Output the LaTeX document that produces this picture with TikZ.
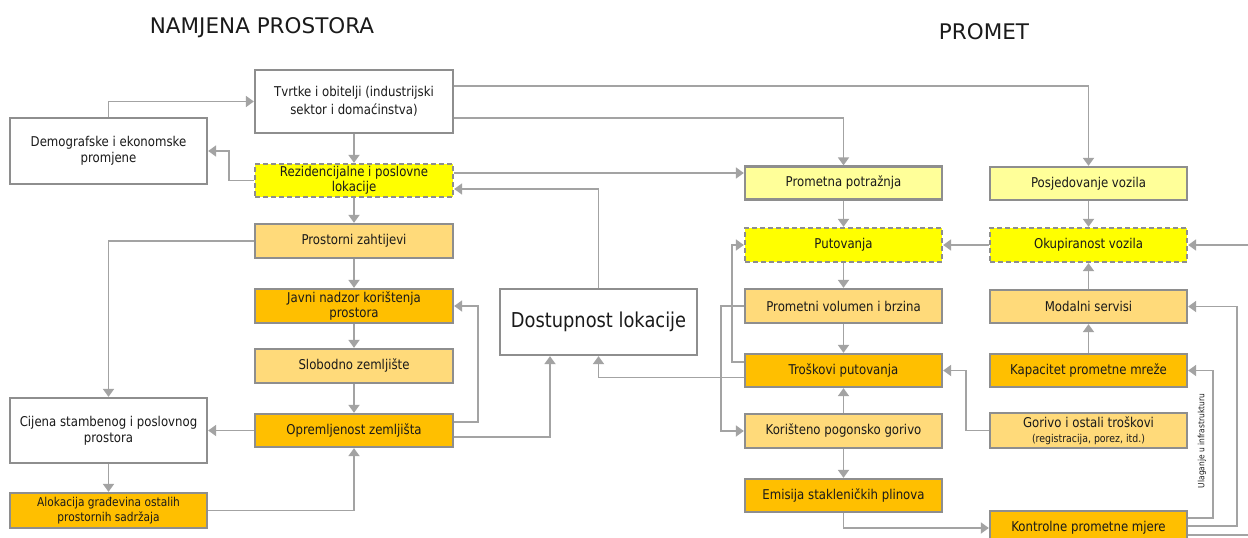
\documentclass[tikz,border=0pt]{standalone}
\usepackage{fontspec}
\setmainfont{DejaVu Sans}[FakeStretch=0.87]
\newfontfamily\titlefont{DejaVu Sans}
\usetikzlibrary{arrows.meta,calc}
\definecolor{bordergray}{HTML}{8E8E8E}
\definecolor{linegray}{HTML}{A3A3A3}
\definecolor{brightyellow}{HTML}{FFFF00}
\definecolor{paleyellow}{HTML}{FFFF99}
\definecolor{lightorange}{HTML}{FFDA7A}
\definecolor{darkorange}{HTML}{FFBF00}
\definecolor{txt}{HTML}{1A1A1A}
\tikzset{
  box/.style={draw=bordergray, line width=2.3pt, inner sep=0pt, align=center,
    minimum width=197pt, minimum height=34pt, text=txt,
    font=\fontsize{13.5}{16}\selectfont},
  whitebox/.style={box, fill=white},
  yelbox/.style={box, fill=brightyellow, dash pattern=on 5pt off 3pt},
  palebox/.style={box, fill=paleyellow},
  lightbox/.style={box, fill=lightorange},
  darkbox/.style={box, fill=darkorange},
  conn/.style={draw=linegray, line width=1.8pt,
    -{Triangle[width=11pt,length=8pt,fill=linegray]}},
  plainconn/.style={draw=linegray, line width=1.8pt},
  title/.style={font=\titlefont\fontsize{21.5}{24}\selectfont, text=txt}
}
\begin{document}
\begin{tikzpicture}[x=1pt,y=-1pt]
\useasboundingbox (0,0) rectangle (1248,538);
\fill[white] (0,0) rectangle (1248,538);

% titles
\node[title] (t1) at (262,28) {NAMJENA PROSTORA};
\node[title] (t2) at (984,32) {PROMET};

% left column
\node[whitebox, minimum width=198pt, minimum height=63pt, font=\fontsize{13.5}{18.5}\selectfont] (tvrtke) at (354,101.5) {Tvrtke i obitelji (industrijski\\sektor i domaćinstva)};
\node[whitebox, minimum height=66pt] (demog) at (108.5,151) {Demografske i ekonomske\\promjene};
\node[yelbox, minimum width=198pt, minimum height=33pt, font=\fontsize{13.5}{15}\selectfont] (rez) at (354,180.5) {Rezidencijalne i poslovne\\lokacije};
\node[lightbox, minimum width=198pt] (prost) at (354,241) {Prostorni zahtijevi};
\node[darkbox, minimum width=198pt, font=\fontsize{13.5}{15.5}\selectfont] (javni) at (354,306) {Javni nadzor korištenja\\prostora};
\node[lightbox, minimum width=198pt] (slob) at (354,366) {Slobodno zemljište};
\node[darkbox, minimum width=198pt, minimum height=33pt] (oprem) at (354,430.5) {Opremljenost zemljišta};
\node[whitebox, minimum height=65pt] (cijena) at (108.5,430.5) {Cijena stambenog i poslovnog\\prostora};
\node[darkbox, minimum height=35pt, font=\fontsize{12.2}{15}\selectfont] (alok) at (108.5,510.5) {Alokacija građevina ostalih\\prostornih sadržaja};

% centre
\node[whitebox, minimum height=66pt, font=\fontsize{20.5}{22}\selectfont] (dost) at (598.5,322) {Dostupnost lokacije};

% right
\node[palebox, minimum height=33pt] (prom) at (843.5,183) {Prometna potražnja};
\node[palebox, minimum height=33pt] (posj) at (1088.5,183.5) {Posjedovanje vozila};
\node[yelbox] (put) at (843.5,245) {Putovanja};
\node[yelbox] (okup) at (1088.5,245) {Okupiranost vozila};
\node[lightbox] (pvol) at (843.5,306) {Prometni volumen i brzina};
\node[lightbox, minimum height=33pt] (modal) at (1088.5,306.5) {Modalni servisi};
\node[darkbox, minimum height=33pt] (trosk) at (843.5,370.5) {Troškovi putovanja};
\node[darkbox, minimum height=33pt] (kapac) at (1088.5,370.5) {Kapacitet prometne mreže};
\node[lightbox] (kor) at (843.5,431) {Korišteno pogonsko gorivo};
\node[lightbox, minimum height=35pt, font=\fontsize{13.5}{14.5}\selectfont] (goriv) at (1088.5,430.5) {Gorivo i ostali troškovi\\{\fontsize{10.8}{11}\selectfont (registracija, porez, itd.)}};
\node[darkbox, minimum height=33pt] (emis) at (843.5,495.5) {Emisija stakleničkih plinova};
\node[darkbox, minimum height=34pt] (kontr) at (1088.5,528) {Kontrolne prometne mjere};

% connectors left
\draw[conn] (demog.north) |- (tvrtke.west);
\draw[conn] (rez.west) -- ++(-25,0) |- (demog.east);
\draw[conn] (tvrtke.south) -- (rez.north);
\draw[conn] ([yshift=15.5pt]tvrtke.east) -| (posj.north);
\draw[conn] ([yshift=-16.5pt]tvrtke.east) -| (prom.north);
\draw[conn] ([yshift=7.5pt]rez.east) coordinate (r1) -- (r1 -| prom.west);
\draw[conn] (dost.north) |- ([yshift=-8.5pt]rez.east);
\draw[conn] (rez.south) -- (prost.north);
\draw[conn] (prost.south) -- (javni.north);
\draw[conn] (javni.south) -- (slob.north);
\draw[conn] (slob.south) -- (oprem.north);
\draw[conn] (prost.west) -| (cijena.north);
\draw[conn] (oprem.west) -- (cijena.east);
\draw[conn] (cijena.south) -- (alok.north);
\draw[conn] (alok.east) -| (oprem.south);
\draw[conn] ([yshift=8.5pt]oprem.east) -- ++(24,0) |- (javni.east);
\draw[conn] ([yshift=-6.5pt]oprem.east) -| ([xshift=-48.5pt]dost.south);
\draw[conn] ([yshift=-7pt]trosk.west) -| (dost.south);

% connectors right
\draw[conn] (prom.south) -- (put.north);
\draw[conn] (posj.south) -- (okup.north);
\draw[conn] (okup.west) -- (put.east);
\coordinate (redge) at (1250,245);
\draw[conn] (redge) -- (okup.east);
\draw[conn] (put.south) -- (pvol.north);
\draw[conn] (pvol.south) -- (trosk.north);
\draw[conn] ([yshift=8.5pt]trosk.west) -- ++(-12,0) |- (put.west);
\draw[conn] (pvol.west) -- ++(-23,0) |- (kor.west);
\draw[conn] (kor.north) -- (trosk.south);
\draw[conn] (kor.south) -- (emis.north);
\draw[conn] (emis.south) |- (kontr.west);
\draw[conn] (goriv.west) -- ++(-23,0) |- (trosk.east);
\draw[conn] (kapac.north) -- (modal.south);
\draw[conn] (modal.north) -- (okup.south);
\draw[conn] ([yshift=10pt]kontr.east) -- ++(25,0) |- (kapac.east);
\draw[conn] ([yshift=2pt]kontr.east) -- ++(49,0) |- (modal.east);
\coordinate (redge2) at (1252,535);
\draw[plainconn] ([yshift=-7pt]kontr.east) -- (redge2);

\node[rotate=90, font=\fontsize{8.6}{10}\selectfont, text=txt] (ulag) at (1202,441) {Ulaganje u infrastrukturu};
\end{tikzpicture}
\end{document}
